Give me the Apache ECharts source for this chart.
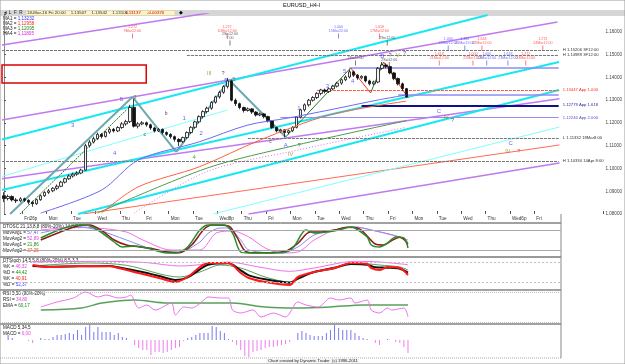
<!DOCTYPE html>
<html>
<head>
<meta charset="utf-8">
<script src="https://cdn.jsdelivr.net/npm/echarts@6/dist/echarts.min.js"></script>
<style>
html,body{margin:0;padding:0;background:#fff;}
#chart{width:625px;height:364px;}
</style>
</head>
<body>
<div id="chart"></div>
<script>
// 价格数据：每根K线 [open, close, low, high]
var candles = [
[1.0880,1.0868,1.0852,1.0896],[1.0868,1.0877,1.0860,1.0885],[1.0877,1.0862,1.0855,1.0882],[1.0862,1.0858,1.0848,1.0870],
[1.0858,1.0867,1.0852,1.0874],[1.0867,1.0860,1.0853,1.0872],[1.0860,1.0852,1.0842,1.0865],[1.0852,1.0845,1.0832,1.0858],
[1.0845,1.0863,1.0840,1.0868],[1.0863,1.0880,1.0858,1.0886],[1.0880,1.0895,1.0875,1.0900],[1.0895,1.0902,1.0888,1.0910],
[1.0902,1.0913,1.0896,1.0918],[1.0913,1.0922,1.0905,1.0930],[1.0922,1.0940,1.0918,1.0946],[1.0940,1.0955,1.0934,1.0960],
[1.0955,1.0967,1.0950,1.0974],[1.0967,1.0975,1.0960,1.0982],[1.0975,1.0980,1.0968,1.0988],[1.0980,1.0993,1.0975,1.0999],
[1.0993,1.1100,1.0990,1.1108],[1.1100,1.1116,1.1092,1.1125],[1.1116,1.1131,1.1110,1.1140],[1.1131,1.1150,1.1125,1.1158],
[1.1150,1.1141,1.1132,1.1156],[1.1141,1.1160,1.1136,1.1166],[1.1160,1.1172,1.1152,1.1180],[1.1172,1.1165,1.1158,1.1178],
[1.1165,1.1180,1.1160,1.1186],[1.1180,1.1196,1.1174,1.1204],[1.1196,1.1206,1.1188,1.1214],[1.1206,1.1268,1.1200,1.1280],
[1.1268,1.1186,1.1180,1.1305],[1.1186,1.1196,1.1176,1.1204],[1.1196,1.1201,1.1190,1.1208],[1.1201,1.1192,1.1184,1.1206],
[1.1192,1.1178,1.1170,1.1197],[1.1178,1.1165,1.1158,1.1183],[1.1165,1.1172,1.1160,1.1178],[1.1172,1.1158,1.1150,1.1176],
[1.1158,1.1150,1.1143,1.1163],[1.1150,1.1140,1.1131,1.1155],[1.1140,1.1128,1.1118,1.1145],[1.1128,1.1118,1.1098,1.1133],
[1.1118,1.1136,1.1112,1.1140],[1.1136,1.1158,1.1130,1.1163],[1.1158,1.1181,1.1152,1.1186],[1.1181,1.1205,1.1175,1.1210],
[1.1205,1.1228,1.1198,1.1234],[1.1228,1.1250,1.1220,1.1256],[1.1250,1.1265,1.1242,1.1272],[1.1265,1.1291,1.1258,1.1296],
[1.1291,1.1315,1.1285,1.1320],[1.1315,1.1335,1.1307,1.1342],[1.1335,1.1360,1.1328,1.1366],[1.1360,1.1385,1.1352,1.1398],
[1.1385,1.1300,1.1295,1.1390],[1.1300,1.1285,1.1275,1.1308],[1.1285,1.1268,1.1260,1.1290],[1.1268,1.1255,1.1246,1.1272],
[1.1255,1.1262,1.1250,1.1268],[1.1262,1.1248,1.1240,1.1266],[1.1248,1.1235,1.1228,1.1252],[1.1235,1.1240,1.1230,1.1246],
[1.1240,1.1228,1.1220,1.1244],[1.1228,1.1210,1.1202,1.1232],[1.1210,1.1180,1.1174,1.1213],[1.1180,1.1165,1.1158,1.1184],
[1.1165,1.1170,1.1156,1.1175],[1.1170,1.1158,1.1138,1.1172],[1.1158,1.1166,1.1150,1.1171],[1.1166,1.1181,1.1160,1.1186],
[1.1181,1.1226,1.1176,1.1230],[1.1226,1.1258,1.1220,1.1263],[1.1258,1.1280,1.1250,1.1286],[1.1280,1.1300,1.1272,1.1306],
[1.1300,1.1312,1.1294,1.1318],[1.1312,1.1330,1.1305,1.1336],[1.1330,1.1345,1.1322,1.1350],[1.1345,1.1338,1.1330,1.1351],
[1.1338,1.1350,1.1332,1.1356],[1.1350,1.1362,1.1344,1.1368],[1.1362,1.1375,1.1356,1.1381],[1.1375,1.1390,1.1368,1.1396],
[1.1390,1.1402,1.1384,1.1409],[1.1402,1.1425,1.1396,1.1435],[1.1425,1.1410,1.1402,1.1430],[1.1410,1.1398,1.1390,1.1415],
[1.1398,1.1405,1.1392,1.1410],[1.1405,1.1385,1.1378,1.1408],[1.1385,1.1372,1.1365,1.1390],[1.1372,1.1380,1.1366,1.1386],
[1.1380,1.1440,1.1375,1.1446],[1.1440,1.1455,1.1434,1.1468],[1.1455,1.1448,1.1440,1.1462],[1.1448,1.1420,1.1414,1.1452],
[1.1420,1.1395,1.1388,1.1425],[1.1395,1.1372,1.1365,1.1400],[1.1372,1.1351,1.1340,1.1378],[1.1351,1.1314,1.1311,1.1354]
];

// 均线关键点 [bar, price]
var ma1 = [[9,1.0804],[24,1.0905],[33,1.1037],[48,1.1117],[60,1.1191],[70,1.1222],[80,1.1257],[92,1.1301],[99,1.1323]];
var ma2 = [[24,1.0804],[33,1.0919],[48,1.1007],[63,1.1125],[80,1.1235],[99,1.1296]];
var ma3 = [[23,1.0804],[50,1.1002],[72,1.1103],[99,1.1210]];
var ma4 = [[32,1.0804],[50,1.0987],[72,1.1080],[99,1.1181]];

// 趋势线 [bar1, price1, bar2, price2]
var cyanLines = [[-0.5,1.11275,119.0,1.16747],[-0.5,1.09055,136.6,1.14681],[18.2,1.0800,136.6,1.13451]];
var cyanThin = [[-0.5,1.0965,55,1.1257],[51.5,1.0800,136.7,1.11824]];
var purpleLines = [[-0.5,1.15429,50.4,1.16835],[-0.5,1.12132,136.2,1.16440],[-0.5,1.09552,136.7,1.13068],[60.2,1.0800,136.7,1.10242]];
var redLines = [[19.4,1.0800,136.7,1.11033]];
var tealZig = [[1.5,1.0800,31.6,1.13143],[31.6,1.13143,42.4,1.10725],[42.4,1.10725,55.4,1.13890],[55.4,1.13890,69.3,1.11385]];
var greenDash = [[3.9,1.0800,30.1,1.12571]];
var greenZig = [[69.3,1.11385,85.3,1.14418],[90.2,1.13319,93.4,1.14681]];
var redZig = [[85.3,1.14418,90.2,1.13319],[93.4,1.14681,99.5,1.13099]];

// 水平价位线 [起始bar, price, 标签]
var greyLevels = [[-0.5,1.15206,'H 1.15206 3F12:00'],[45,1.14989,'H 1.14989 3F12:00'],[60,1.11332,'L 1.11332 18Mar8:00'],[-0.5,1.10330,'H 1.10330 14Apr 8:00']];
var appLevels = [[77,1.13447,'1.13447 App 1.000'],[88,1.12779,'1.12779 App 1.618'],[68,1.12246,'1.12246 App 2.000']];
var blueLevels = [[85,1.14418],[97,1.13231]];

// 波浪标注 [bar, price, text]
var waveBlue = [[16.9,1.1191,'3'],[27.2,1.1068,'4'],[28.9,1.1306,'5'],[44.3,1.1222,'1'],[48.5,1.1156,'2'],[54.6,1.1389,'5'],[69.3,1.1102,'A'],[72.6,1.1264,'1'],[79.6,1.1361,'3'],[83.8,1.1427,'5'],[85.8,1.1383,'4'],[93.1,1.1495,'B'],[107,1.1252,'C'],[124.7,1.1112,'C']];
var waveOlive = [[50.5,1.1416,'III'],[96.9,1.1495,'V'],[70.5,1.1062,'IV'],[108.8,1.1225,'IV'],[124,1.1076,'IV']];
var waveBlack = [[53.9,1.1416,'?'],[95,1.1495,'?'],[98.6,1.1504,'?'],[72.6,1.1102,'?'],[110.4,1.1212,'?'],[39.9,1.1239,'b'],[34.6,1.1147,'c'],[65.6,1.1116,'c']];
var waveGreen = [[32.2,1.1314,'3'],[56.6,1.1394,'5'],[46.8,1.1050,'4']];
var waveRed = [[126.7,1.1076,'?']];

// 时间目标注释 [bar, price, text]
var notesRed = [[31.6,1.1596,'1.272\n9Mar12:00'],[54.9,1.1596,'1.272\n10Mar12:00'],[92.4,1.1596,'1.618\n17Mar12:00'],[117.6,1.1543,'1.618\n22Mar12:00'],[132.6,1.1543,'1.272\n24Mar12:00'],[107.1,1.1477,'1.618\n21Mar12:00'],[115.4,1.1477,'1.000\n22Mar12:00'],[128.4,1.1477,'1.272\n23Mar12:00']];
var notesBlue = [[82.3,1.1596,'1.000\n15Mar12:00'],[109.3,1.1543,'1.000\n21Mar12:00'],[113.4,1.1543,'1.382\n21Mar12:00'],[118.8,1.1477,'1.000\n22Mar12:00'],[124.0,1.1477,'1.618\n23Mar12:00']];
var notesBlack = [[55.6,1.1565,'2Sw12:00\n7.00'],[94.3,1.1565,'2Sw12:00'],[86.5,1.1477,'2Sw12:00'],[94.8,1.1470,'2Sw12:00']];

// 日期刻度
var dayLabels = ['Fri26p','Mon','Tue','Wed','Thu','Fri','Mon','Tue','Wed8p','Thu','Fri','Mon','Tue','Wed','Thu','Fri','Mon','Tue','Wed','Thu','Wed6p','Fri'];

// 指标
var dtoscFast = [[9,56],[18,95],[20,95],[23,80],[27,44],[29,29],[32,32],[35,26],[40,11],[42,11],[45,29],[48,80],[50,95],[54,95],[56,71],[58,14],[60,11],[64,11],[69,14],[71,29],[74,80],[76,71],[79,74],[82,80],[85,89],[86,86],[89,59],[90,35],[92,29],[94,41],[96,59],[98,56],[99,26]];
var dtoscFast2 = [[9,50],[18,92],[21,95],[24,78],[27,50],[30,35],[33,30],[36,25],[40,14],[43,12],[46,35],[49,82],[51,95],[55,92],[57,60],[59,18],[61,12],[65,12],[69,16],[72,40],[75,74],[78,74],[81,80],[84,88],[87,84],[89,62],[91,38],[93,35],[95,48],[97,58],[99,38]];
var dtoscSlow1 = [[9,71],[18,89],[23,80],[30,50],[37,20],[43,14],[48,44],[50,70],[53,86],[55,86],[58,50],[60,20],[68,11],[72,29],[76,65],[81,80],[86,89],[90,80],[97,59],[99,44]];
var dtoscSlow2 = [[9,80],[18,89],[23,86],[30,74],[34,50],[41,20],[48,20],[52,71],[56,77],[60,59],[64,26],[68,11],[72,14],[76,50],[81,80],[86,89],[90,80],[95,65],[99,50]];
var stochK = [[7,71],[11,65],[18,68],[26,67],[28,62],[33,47],[38,32],[42,20],[45,35],[48,65],[50,77],[55,77],[58,47],[60,32],[64,20],[70,11],[72,35],[76,50],[81,62],[85,77],[89,74],[90,62],[92,56],[94,65],[97,62],[99,41]];
var stochD = [[7,68],[11,66],[26,68],[28,64],[33,52],[38,38],[42,26],[45,34],[48,58],[50,72],[55,76],[58,55],[60,40],[64,28],[70,18],[72,30],[76,50],[81,62],[85,74],[89,72],[91,64],[94,63],[97,60],[99,48]];
var stochK2 = [[7,68],[21,77],[30,70],[43,35],[48,50],[53,71],[58,62],[64,35],[70,20],[75,47],[81,65],[86,77],[92,71],[97,65],[99,56]];
var stochD2 = [[7,80],[25,82],[35,78],[43,68],[50,74],[55,80],[62,66],[70,52],[76,62],[86,82],[92,80],[99,72]];
var rsi = [[9,50],[13,60],[17,68],[20,80],[23,70],[25,74],[28,68],[30,70],[31,74],[33,48],[35,54],[37,44],[41,58],[42,34],[44,50],[46,48],[49,64],[50,70],[53,68],[55,68],[56,44],[58,38],[61,44],[63,30],[66,38],[69,30],[72,60],[74,54],[77,50],[80,68],[82,64],[85,68],[86,58],[89,64],[90,44],[92,38],[94,48],[95,44],[98,48],[99,30]];
var rsiEma = [[9,44],[19,48],[24,58],[32,64],[40,58],[50,58],[56,58],[64,50],[72,48],[80,50],[88,54],[99,54]];
var macd = [0,15,6,0,0,0,-3,-9,0,6,3,3,9,15,15,18,21,18,30,15,39,45,24,39,24,24,24,15,21,9,6,0,-15,-24,-30,-30,-45,-36,-36,-39,-36,-30,-24,-21,-3,6,9,15,21,21,21,42,39,27,21,3,-6,-15,-30,-48,-51,-36,-33,-30,-24,-21,-21,-18,-15,-12,-6,0,21,27,21,15,12,12,12,21,30,45,36,30,30,30,21,12,6,3,0,-9,-15,0,3,0,-6,-9,-21,-39];

var lastClose = 1.13137;

var dom = document.getElementById('chart');
var myChart = echarts.init(dom);
var F = 'Liberation Sans, Arial, sans-serif';

var mainCats = [], indCats = [];
for (var i = 0; i < 148; i++) mainCats.push(i);
for (var j = 0; j < 137; j++) indCats.push(j);

function segs(arr) {
	return arr.map(function (l) { return { coords: [[l[0], l[1]], [l[2], l[3]]] }; });
}
function levelSegs(arr) {
	return arr.map(function (l) { return { name: l[2] || '', coords: [[l[0], l[1]], [136.5, l[1]]] }; });
}
function lineSeries(data, color, width, type, xi, yi) {
	return {
		type: 'lines', coordinateSystem: 'cartesian2d', xAxisIndex: xi, yAxisIndex: yi,
		data: segs(data), silent: true, clip: true,
		lineStyle: { color: color, width: width, type: type || 'solid', opacity: 1 }
	};
}
function levelSeries(data, color, width, type, labelColor) {
	return {
		type: 'lines', coordinateSystem: 'cartesian2d', xAxisIndex: 1, yAxisIndex: 1, silent: true,
		data: levelSegs(data), lineStyle: { color: color, width: width, type: type || 'solid', opacity: 1 },
		label: { show: !!labelColor, position: 'end', formatter: '{b}', fontSize: 4.2, color: labelColor || '#333', distance: 4, fontFamily: F }
	};
}
function labelSeries(data, color, size) {
	return {
		type: 'scatter', xAxisIndex: 1, yAxisIndex: 1, symbolSize: 0, silent: true,
		data: data.map(function (d) { return { value: [d[0], d[1]], name: d[2] }; }),
		label: { show: true, position: 'inside', formatter: '{b}', color: color, fontSize: size || 6, fontFamily: F }
	};
}
function noteSeries(data, color) {
	return {
		type: 'scatter', xAxisIndex: 1, yAxisIndex: 1, symbol: 'rect', symbolSize: [0.8, 5], symbolOffset: [0, 3],
		itemStyle: { color: color }, silent: true,
		data: data.map(function (d) { return { value: [d[0], d[1]], name: d[2] }; }),
		label: { show: true, position: 'top', distance: 0, formatter: '{b}', color: color, fontSize: 3.6, lineHeight: 4, fontFamily: F }
	};
}
function indLine(data, color, width, xi, yi, type) {
	return {
		type: 'line', xAxisIndex: xi, yAxisIndex: yi, data: data, symbol: 'none', smooth: 0.3, silent: true,
		lineStyle: { color: color, width: width, type: type || 'solid' }
	};
}
function hLines(vals, color, type) {
	return {
		silent: true, symbol: 'none', label: { show: false },
		lineStyle: { color: color, width: 1, type: type || 'solid' },
		data: vals.map(function (v) { return { yAxis: v }; })
	};
}
function panelText(x, y, parts) {
	var rich = {};
	var str = parts.map(function (p, k) {
		rich['c' + k] = { fill: p[1], fontSize: 4.6, fontFamily: F };
		return '{c' + k + '|' + p[0] + '}';
	}).join('');
	return { type: 'text', left: x, top: y, style: { text: str, rich: rich, fontSize: 4.6, fontFamily: F } };
}

var option = {
	backgroundColor: '#ffffff',
	animation: false,
	grid: [
		{ left: 2, top: 14, width: 604, height: 200 },
		{ left: 2, top: 223, width: 559, height: 34 },
		{ left: 2, top: 257, width: 559, height: 33 },
		{ left: 2, top: 290, width: 559, height: 34 },
		{ left: 2, top: 324, width: 559, height: 34 }
	],
	xAxis: [
		{
			type: 'category', gridIndex: 0, data: mainCats, boundaryGap: true,
			axisLine: { show: false },
			axisTick: { show: true, length: 3, inside: true, lineStyle: { color: '#555' },
				interval: function (idx) { return idx >= 5 && idx <= 131 && (idx - 5) % 6 === 0; } },
			axisLabel: {
				interval: function (idx) { return idx >= 5 && idx <= 131 && (idx - 5) % 6 === 0; },
				formatter: function (v, idx) { return dayLabels[(idx - 5) / 6] || ''; },
				fontSize: 4.6, color: '#333', margin: 2, align: 'left', fontFamily: F
			},
			splitLine: { show: false }
		},
		{ type: 'value', gridIndex: 0, min: -0.5, max: 147.5, show: false },
		{ type: 'category', gridIndex: 1, data: indCats, show: false },
		{ type: 'category', gridIndex: 2, data: indCats, show: false },
		{ type: 'category', gridIndex: 3, data: indCats, show: false },
		{ type: 'category', gridIndex: 4, data: indCats, show: false }
	],
	yAxis: [
		{
			type: 'value', gridIndex: 0, position: 'right', min: 1.08, max: 1.1679, interval: 0.01,
			axisLine: { show: true, lineStyle: { color: '#888' } },
			axisTick: { show: true, length: 2, lineStyle: { color: '#555' } },
			axisLabel: { formatter: function (v) { return Math.abs(v - 1.1679) < 1e-6 ? '' : v.toFixed(5); }, fontSize: 4.6, color: '#444', margin: 2, fontFamily: F },
			splitLine: { show: false }
		},
		{ type: 'value', gridIndex: 0, min: 1.08, max: 1.1679, show: false },
		{ type: 'value', gridIndex: 1, min: -1, max: 101, show: false },
		{ type: 'value', gridIndex: 2, min: -4, max: 95, show: false },
		{ type: 'value', gridIndex: 3, min: 16, max: 84, show: false },
		{ type: 'value', gridIndex: 4, min: -54, max: 48, show: false }
	],
	graphic: [
		{ type: 'rect', shape: { x: 0, y: 0, width: 625, height: 364 }, style: { fill: 'none', stroke: '#9a9a9a', lineWidth: 1 }, silent: true, z: 100 },
		{ type: 'rect', shape: { x: 0, y: 10, width: 625, height: 6 }, style: { fill: '#d6d6d6' }, silent: true },
		{ type: 'rect', shape: { x: 26, y: 10.5, width: 149, height: 5 }, style: { fill: '#fbf3cc', stroke: '#d8c88a', lineWidth: 0.5 }, silent: true },
		{ type: 'text', left: 3, top: 10.5, style: { text: '◄ L  F  R', fontSize: 4.6, fill: '#223', fontFamily: F } },
		{ type: 'text', left: 27, top: 10.6, style: { text: '18-Mar-16 Fri 20:00    1.13507    1.13542    1.13106', fontSize: 4.4, fill: '#333', fontFamily: F } },
		{ type: 'text', left: 125, top: 10.6, style: { text: '1.13137     -0.00370', fontSize: 4.4, fill: '#d00000', fontFamily: F } },
		{ type: 'text', left: 179, top: 10, style: { text: '◆', fontSize: 5, fill: '#000', fontFamily: F } },
		{ type: 'text', left: 283, top: 2, style: { text: 'EURUSD_H4-I', fontSize: 5.6, fill: '#111', fontFamily: F } },
		panelText(3, 16.5, [['MA1 = ', '#222'], ['1,13232', '#3030ff']]),
		panelText(3, 21.5, [['MA2 = ', '#222'], ['1,12958', '#ff2020']]),
		panelText(3, 26.5, [['MA3 = ', '#222'], ['1,12095', '#109010']]),
		panelText(3, 31.5, [['MA4 = ', '#222'], ['1,11805', '#e020e0']]),
		{ type: 'line', shape: { x1: 0, y1: 223, x2: 561, y2: 223 }, style: { stroke: '#444', lineWidth: 1 }, silent: true },
		{ type: 'line', shape: { x1: 0, y1: 257, x2: 561, y2: 257 }, style: { stroke: '#999', lineWidth: 2 }, silent: true },
		{ type: 'line', shape: { x1: 0, y1: 290, x2: 561, y2: 290 }, style: { stroke: '#444', lineWidth: 1 }, silent: true },
		{ type: 'line', shape: { x1: 0, y1: 324, x2: 561, y2: 324 }, style: { stroke: '#444', lineWidth: 1 }, silent: true },
		{ type: 'line', shape: { x1: 0, y1: 358, x2: 561, y2: 358 }, style: { stroke: '#aaa', lineWidth: 1, lineDash: [1, 1] }, silent: true },
		{ type: 'line', shape: { x1: 561, y1: 214, x2: 561, y2: 358 }, style: { stroke: '#888', lineWidth: 1 }, silent: true },
		panelText(3, 224, [['DTOSC 21,13,8,8 (80%-20%) 14,8,5,3', '#222']]),
		panelText(3, 230, [['MovAvg1 = ', '#222'], ['57,47', '#4040ff']]),
		panelText(3, 236, [['MovAvg2 = ', '#222'], ['52,89', '#e040e0']]),
		panelText(3, 242, [['MovAvg1 = ', '#222'], ['21,86', '#109010']]),
		panelText(3, 248, [['MovAvg2 = ', '#222'], ['37,25', '#ff5020']]),
		panelText(3, 258.5, [['DTStoch 14,5,5,8 (80%-20%) 8,5,3,3', '#222']]),
		panelText(3, 264.5, [['%K = ', '#222'], ['46,32', '#e040e0']]),
		panelText(3, 270.5, [['%D = ', '#222'], ['44,42', '#109010']]),
		panelText(3, 276.5, [['%K = ', '#222'], ['40,91', '#ff2020']]),
		panelText(3, 282.5, [['%D = ', '#222'], ['52,37', '#4040ff']]),
		panelText(3, 291.5, [['RSI 5,50 (80%-20%)', '#222']]),
		panelText(3, 297.5, [['RSI = ', '#222'], ['34,80', '#e040e0']]),
		panelText(3, 303.5, [['EMA = ', '#222'], ['60,17', '#109010']]),
		panelText(3, 325.5, [['MACD 5,34,5', '#222']]),
		panelText(3, 331.5, [['MACD = ', '#222'], ['0,00', '#e040e0']]),
		{ type: 'rect', shape: { x: 266, y: 358.5, width: 93, height: 5 }, style: { fill: '#f4f4f4' }, silent: true },
		{ type: 'text', left: 268, top: 358.8, style: { text: 'Chart created by Dynamic Trader  (c) 1996-2011', fontSize: 4.2, fill: '#222', fontFamily: F } }
	],
	series: [
		// 红色方框
		{
			type: 'scatter', xAxisIndex: 1, yAxisIndex: 1, data: [], silent: true,
			markArea: { silent: true, itemStyle: { color: 'rgba(0,0,0,0)', borderColor: '#e00000', borderWidth: 1.5 },
				data: [[{ coord: [-0.5, 1.1455] }, { coord: [35, 1.1376] }]] }
		},
		lineSeries(purpleLines, '#c07af0', 1.5, 'solid', 1, 1),
		lineSeries(redLines, '#ff6a50', 1, 'solid', 1, 1),
		lineSeries(cyanThin, '#7fffff', 1, 'solid', 1, 1),
		lineSeries(cyanLines, '#18e8f0', 2, 'solid', 1, 1),
		levelSeries(greyLevels, '#777', 1, [3, 1], '#333'),
		levelSeries([appLevels[0]], '#ff5a3c', 1, [3, 1], '#ff3020'),
		levelSeries([appLevels[1]], '#10108a', 2, 'solid', '#2a2aa0'),
		levelSeries([appLevels[2]], '#9c8cf0', 1, 'solid', '#5050d0'),
		levelSeries(blueLevels, '#8c8cf4', 1.5, 'solid', null),
		lineSeries(tealZig, '#6aaab0', 2, 'solid', 1, 1),
		lineSeries(greenDash, '#1f7a1f', 1, [2, 1], 1, 1),
		lineSeries(greenZig, '#1f7a1f', 1, 'solid', 1, 1),
		lineSeries(redZig, '#ff2a2a', 1, 'solid', 1, 1),
		indLine(ma4, '#e66ee6', 1, 1, 1, [1, 2]),
		indLine(ma3, '#4c9a4c', 1, 1, 1),
		indLine(ma2, '#ff6040', 1, 1, 1),
		indLine(ma1, '#6a6af0', 1, 1, 1),
		{
			type: 'candlestick', xAxisIndex: 0, yAxisIndex: 0, data: candles, barWidth: 3, silent: true,
			itemStyle: { color: '#f4f4f4', color0: '#111', borderColor: '#111', borderColor0: '#111', borderWidth: 0.8 },
			markLine: {
				silent: true, symbol: 'none',
				lineStyle: { opacity: 0 },
				label: { show: true, position: 'end', formatter: lastClose.toFixed(5), backgroundColor: '#ffff00', color: '#000', fontSize: 4.6, padding: [1, 2], distance: 1, fontFamily: F },
				data: [{ yAxis: lastClose }]
			}
		},
		labelSeries(waveBlue, '#3a3aff', 6),
		labelSeries(waveOlive, '#8a8a20', 5.5),
		labelSeries(waveBlack, '#222', 5),
		labelSeries(waveGreen, '#1a9a1a', 6),
		labelSeries(waveRed, '#e02020', 5.5),
		noteSeries(notesRed, '#ff3030'),
		noteSeries(notesBlue, '#4646ff'),
		noteSeries(notesBlack, '#333'),
		// DTOSC
		Object.assign(indLine(dtoscSlow2, '#f070f0', 1, 2, 2), { markLine: hLines([80, 20], '#a8a8a8') }),
		indLine(dtoscSlow1, '#8c8cf0', 1, 2, 2),
		indLine(dtoscFast2, '#8b1a1a', 1.5, 2, 2),
		indLine(dtoscFast, '#2a8a2a', 1.5, 2, 2),
		// DTStoch
		Object.assign(indLine(stochD2, '#f070f0', 1, 3, 3), { markLine: hLines([80, 20], '#c0c0c0', [2, 2]) }),
		indLine(stochK2, '#5aa05a', 1, 3, 3),
		indLine(stochD, '#111111', 2, 3, 3),
		indLine(stochK, '#ff1a1a', 2, 3, 3),
		// RSI
		Object.assign(indLine(rsiEma, '#5aa05a', 1.5, 4, 4), { markLine: hLines([80, 20], '#c0c0c0', [1, 1]) }),
		indLine(rsi, '#f070f0', 1, 4, 4),
		// MACD
		{
			type: 'bar', xAxisIndex: 5, yAxisIndex: 5, data: macd, barWidth: 1, silent: true,
			itemStyle: { color: function (p) { return p.value >= 0 ? '#7878ee' : '#f07cf0'; } }
		}
	]
};

if (option && typeof option === 'object') {
	myChart.setOption(option, true);
}
</script>
</body>
</html>
